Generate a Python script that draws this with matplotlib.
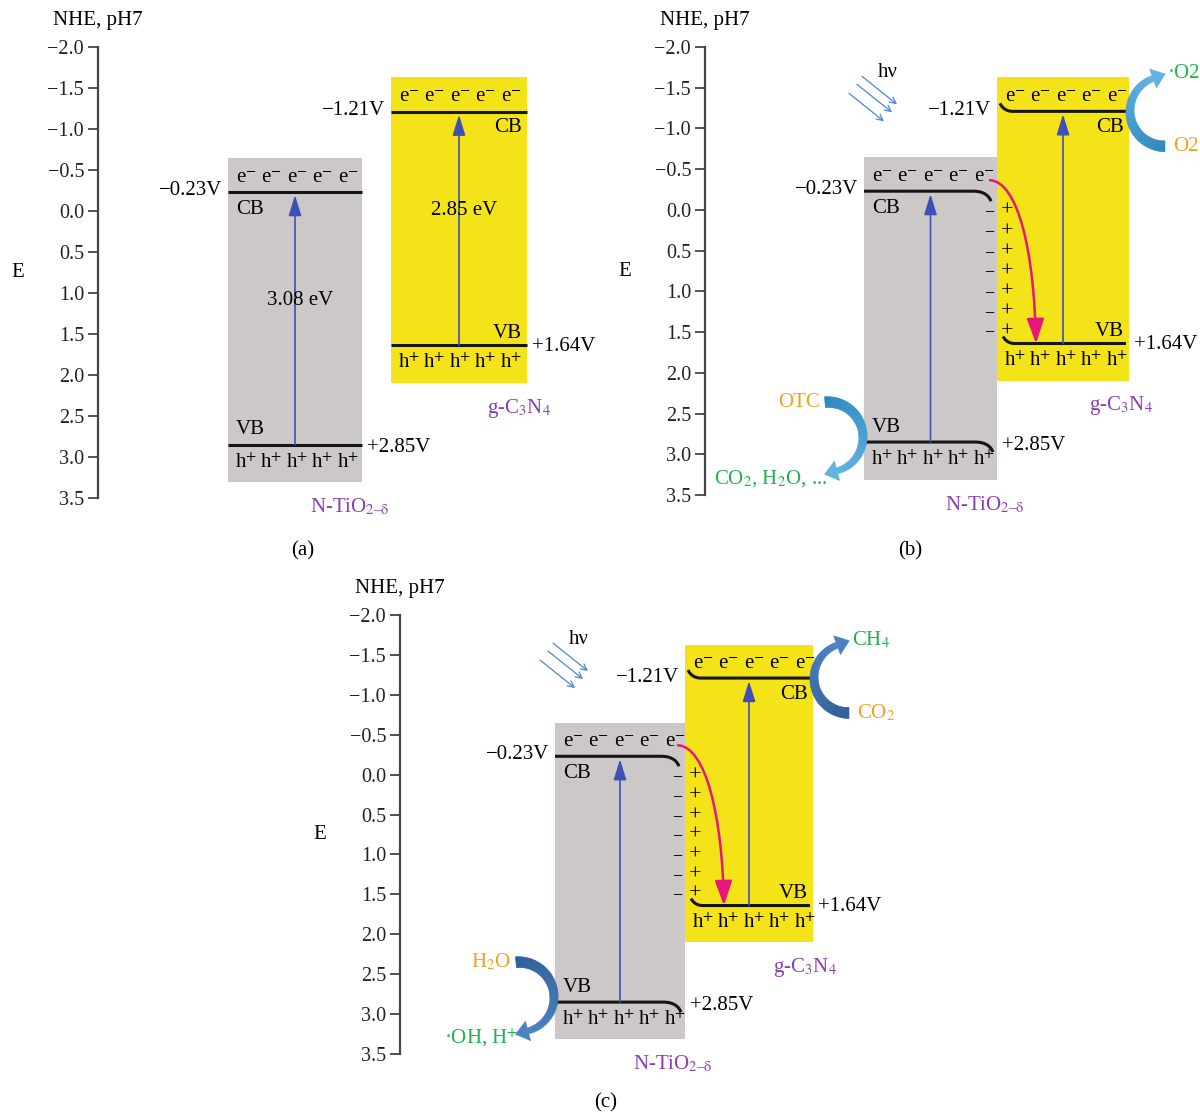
import numpy as np
import matplotlib
matplotlib.use("Agg")
import matplotlib.pyplot as plt
from matplotlib.patches import Rectangle, Polygon, FancyArrowPatch
from matplotlib.path import Path
from matplotlib.colors import to_rgb

plt.rcParams["font.family"] = ["Liberation Serif", "DejaVu Serif"]
plt.rcParams["mathtext.fontset"] = "stix"

# band edge potentials (V vs NHE, pH 7): N-TiO2-d, g-C3N4
materials = ["N-TiO$_{2\u2013\\mathrm{\u03b4}}$", "g-C$_3$N$_4$"]
cb_edge = [-0.23, -1.21]
vb_edge = [2.85, 1.64]
band_gap = [3.08, 2.85]
e_ticks = [-2.0, -1.5, -1.0, -0.5, 0.0, 0.5, 1.0, 1.5, 2.0, 2.5, 3.0, 3.5]
n_carriers = 5
# rows of the space-charge region at the junction
charge_rows = [0.02, 0.27, 0.52, 0.76, 1.01, 1.26, 1.50]

# (reactant, product) on g-C3N4 CB and on N-TiO2-d VB
reduction = {"b": ("O2", "\u00b7O2"), "c": ("CO$_2$", "CH$_4$")}
oxidation = {"b": ("OTC", "CO$_2$, H$_2$O, ..."), "c": ("H$_2$O", "\u00b7OH, H$^{+}$")}

GRAY = "#cbc8c7"
YELLOW = "#f5e31a"
BLUE = "#3f4fb8"
PINK = "#e5177a"
ORANGE = "#f5a01f"
GREEN = "#22b14c"
PURPLE = "#8b3db6"
RAY = "#4f86d0"
FS = 15

W, H = 1200, 1113
layout = {
    "a": dict(spine=98, top=47, bottom=498, right=560, gray=(228, 362), yellow=(391, 527), tag=(303, 551)),
    "b": dict(spine=705, top=47, bottom=495, right=1199, gray=(864, 997), yellow=(997, 1129), tag=(910, 551),
              swoosh=("#2a88c0", "#62b2e2")),
    "c": dict(spine=400, top=615, bottom=1054, right=920, gray=(555, 685), yellow=(685, 813), tag=(606, 1103),
              swoosh=("#2d5d96", "#4c82c2")),
}


def quad(p0, p1, p2, n=20):
    t = np.linspace(0, 1, n)[:, None]
    return (1 - t) ** 2 * np.array(p0) + 2 * (1 - t) * t * np.array(p1) + t ** 2 * np.array(p2)


def swoosh(ax, k, cx, cy, r, a0, a1, w0, w1, c0, c1, head_len=13, head_w=20, n=40):
    # tapered arc arrow; x in pixels, y in volts (k = pixels per volt, axis inverted)
    def pt(rad, ang):
        t = np.radians(ang)
        return (cx + rad * np.cos(t), cy - rad * np.sin(t) / k)

    angs = np.linspace(a0, a1, n + 1)
    widths = np.linspace(w0, w1, n + 1)
    rgb0, rgb1 = np.array(to_rgb(c0)), np.array(to_rgb(c1))
    for i in range(n):
        q = [pt(r - widths[i] / 2, angs[i]), pt(r + widths[i] / 2, angs[i]),
             pt(r + widths[i + 1] / 2, angs[i + 1]), pt(r - widths[i + 1] / 2, angs[i + 1])]
        col = rgb0 + (rgb1 - rgb0) * (i + 0.5) / n
        ax.add_patch(Polygon(q, closed=True, facecolor=col, edgecolor=col, lw=0.4, zorder=4))
    t = np.radians(a1)
    s = np.sign(a1 - a0)
    tx, ty = -np.sin(t) * s, np.cos(t) * s
    tip = (cx + r * np.cos(t) + head_len * tx, cy - (r * np.sin(t) + head_len * ty) / k)
    ax.add_patch(Polygon([pt(r - head_w / 2, a1), tip, pt(r + head_w / 2, a1)],
                         closed=True, facecolor=rgb1, edgecolor=rgb1, lw=0.4, zorder=4))


def volt_label(v):
    return f"{v:+.2f}V".replace("-", "\u2212")


def draw_panel(fig, name):
    p = layout[name]
    ax = fig.add_axes([p["spine"] / W, 1 - p["bottom"] / H,
                       (p["right"] - p["spine"]) / W, (p["bottom"] - p["top"]) / H])
    ax.set_xlim(p["spine"], p["right"])
    ax.set_ylim(3.5, -2.0)
    ax.patch.set_visible(False)
    for side in ["top", "right", "bottom"]:
        ax.spines[side].set_visible(False)
    ax.spines["left"].set_color("#444444")
    ax.spines["left"].set_linewidth(1.6)
    ax.set_xticks([])
    ax.set_yticks(e_ticks)
    ax.tick_params(axis="y", direction="out", length=7, width=1.3, color="#444444",
                   labelcolor="#222222", labelsize=14.5, pad=3)

    k = (p["bottom"] - p["top"]) / 5.5
    px = lambda d: d / k
    gl, gr = p["gray"]
    yl, yr = p["yellow"]
    J = gr
    bent = name != "a"

    ax.text(p["spine"], -2.0 - px(26), "NHE, pH7", ha="center", va="center", fontsize=FS, clip_on=False)
    ax.text(p["spine"] - 80, 0.75, "E", ha="center", va="center", fontsize=FS, clip_on=False)
    fig.text(p["tag"][0] / W, 1 - p["tag"][1] / H, f"({name})", ha="center", va="center", fontsize=FS)

    boxes = [(gl, gr, GRAY), (yl, yr, YELLOW)]
    for i, (x0, x1, col) in enumerate(boxes):
        cb, vb = cb_edge[i], vb_edge[i]
        top, bot = cb - 0.42, vb + 0.46
        ax.add_patch(Rectangle((x0, top), x1 - x0, bot - top, facecolor=col, edgecolor="none", zorder=1))

        # band edges
        if not bent:
            cb_line = np.array([(x0, cb), (x1, cb)])
            vb_line = np.array([(x0, vb), (x1, vb)])
        elif i == 0:
            cb_line = np.vstack([[(x0, cb)], quad((J - 24, cb), (J - 10, cb), (J - 6, cb + px(10)))])
            vb_line = np.vstack([[(x0, vb)], quad((J - 22, vb), (J - 8, vb), (J - 4, vb + px(10)))])
        else:
            cb_line = np.vstack([quad((J + 3, cb - px(8)), (J + 7, cb), (J + 16, cb)), [(x1 - 3, cb)]])
            vb_line = np.vstack([quad((J + 6, vb - px(7)), (J + 10, vb), (J + 18, vb)), [(x1 - 3, vb)]])
        for line in (cb_line, vb_line):
            ax.plot(line[:, 0], line[:, 1], color="#151515", lw=2.2, solid_capstyle="butt", zorder=3)

        for j in range(n_carriers):
            xc = x0 + 18 + 25.5 * j
            ax.text(xc, cb - px(14), "e$^{-}$", ha="center", va="center", fontsize=FS, zorder=5)
            ax.text(xc, vb + px(18), "h$^{+}$", ha="center", va="center", fontsize=FS, zorder=5)

        if i == 0:
            ax.text(x0 + 8, cb + px(17), "CB", ha="left", va="center", fontsize=FS, zorder=5)
            ax.text(x0 + 8, vb - px(15), "VB", ha="left", va="center", fontsize=FS, zorder=5)
            ax.text(x0 - 6, cb - px(2), volt_label(cb), ha="right", va="center", fontsize=FS)
            ax.text(x1 + 5, vb + px(3), volt_label(vb), ha="left", va="center", fontsize=FS)
            ax.text(x1 - 12, bot + px(25), materials[i], ha="center", va="center", fontsize=FS, color=PURPLE)
        else:
            ax.text(x1 - 5, cb + px(16), "CB", ha="right", va="center", fontsize=FS, zorder=5)
            ax.text(x1 - 5, vb - px(12), "VB", ha="right", va="center", fontsize=FS, zorder=5)
            ax.text(x0 - 6, cb - px(1), volt_label(cb), ha="right", va="center", fontsize=FS)
            ax.text(x1 + 5, vb + px(1), volt_label(vb), ha="left", va="center", fontsize=FS)
            ax.text(x1 - 8, bot + px(25), materials[i], ha="center", va="center", fontsize=FS, color=PURPLE)

        # photo-excitation across the gap
        xm = (x0 + x1) / 2
        ax.annotate("", xy=(xm, cb + px(3)), xytext=(xm, vb),
                    arrowprops=dict(arrowstyle="-|>,head_length=0.9,head_width=0.28", color=BLUE,
                                    lw=1.2, mutation_scale=14, shrinkA=0, shrinkB=0), zorder=4)
        if not bent:
            ax.text(xm + 5, (cb + vb) / 2 - 0.22, f"{band_gap[i]:.2f} eV", ha="center", va="center",
                    fontsize=FS, zorder=5)

    if not bent:
        return

    # space charge at the junction
    for row in charge_rows:
        ax.text(J - 8, row, "\u2212", ha="center", va="center", fontsize=13, zorder=5)
        ax.text(J + 10, row, "+", ha="center", va="center", fontsize=16, zorder=5)

    # electron transfer from N-TiO2-d CB to g-C3N4 VB
    cbg, vby = cb_edge[0], vb_edge[1]
    verts = [(J - 7, cbg - px(11)), (J + 21, cbg - px(9)), (J + 37, cbg + px(59)), (J + 39, vby)]
    path = Path(verts, [Path.MOVETO, Path.CURVE4, Path.CURVE4, Path.CURVE4])
    ax.add_patch(FancyArrowPatch(path=path, arrowstyle="-|>,head_length=1.0,head_width=0.35",
                                 mutation_scale=15, color=PINK, lw=1.8, zorder=6))

    # incident light
    x_end, y_end = gl + 33, cb_edge[1] - px(7)
    ax.text(x_end - 9, y_end - px(32), "h\u03bd", ha="center", va="center", fontsize=FS)
    for dx, dy in [(0, 0), (-5, 8), (-13, 17)]:
        ax.annotate("", xy=(x_end + dx, y_end + px(dy)), xytext=(x_end + dx - 35, y_end + px(dy - 28)),
                    arrowprops=dict(arrowstyle="->", color=RAY, lw=0.9, mutation_scale=11,
                                    shrinkA=0, shrinkB=0))

    c0, c1 = p["swoosh"]
    # reduction on g-C3N4 CB
    rx, ry = yr + 36, cb_edge[1]
    swoosh(ax, k, rx, ry, 35, -90, -250, 11, 6, c0, c1)
    react, prod = reduction[name]
    ax.text(rx + 8, ry + px(35), react, ha="left", va="center", fontsize=FS, color=ORANGE, clip_on=False)
    ax.text(rx + 3, ry - px(38), prod, ha="left", va="center", fontsize=FS, color=GREEN, clip_on=False)

    # oxidation on N-TiO2-d VB
    ox, oy = gl - 36, vb_edge[0] - px(5)
    swoosh(ax, k, ox, oy, 35, 95, -75, 11, 6, c0, c1)
    react, prod = oxidation[name]
    ax.text(ox - 8, oy - px(35), react, ha="right", va="center", fontsize=FS, color=ORANGE)
    ax.text(ox - 1, oy + px(41), prod, ha="right", va="center", fontsize=FS, color=GREEN)


fig = plt.figure(figsize=(W / 100, H / 100), dpi=100)
for name in ["a", "b", "c"]:
    draw_panel(fig, name)
fig.savefig("out.png", dpi=100)
